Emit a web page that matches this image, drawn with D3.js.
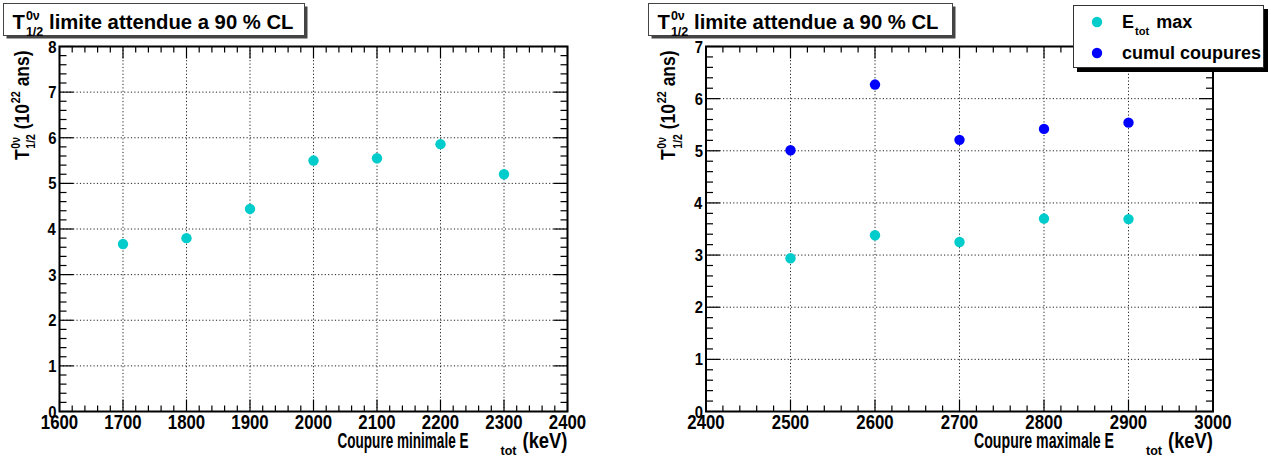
<!DOCTYPE html>
<html><head><meta charset="utf-8">
<script src="https://cdn.jsdelivr.net/npm/d3@7"></script>
<style>
html,body{margin:0;padding:0;background:#fff;}
svg text{font-family:"Liberation Sans",Arial,Helvetica,sans-serif;font-weight:bold;fill:#000;}
</style></head>
<body>
<svg id="c" width="1271" height="458"></svg>
<script>
// ---- data ----
const leftCuts = [1700, 1800, 1900, 2000, 2100, 2200, 2300];
const leftLimit = [3.67, 3.80, 4.44, 5.50, 5.55, 5.86, 5.20];
const rightCuts = [2500, 2600, 2700, 2800, 2900];
const rightEtotMax = [2.94, 3.38, 3.25, 3.70, 3.69];
const rightCumul = [5.01, 6.27, 5.21, 5.42, 5.54];
const leftXTicks = [1600, 1700, 1800, 1900, 2000, 2100, 2200, 2300, 2400];
const leftYTicks = [0, 1, 2, 3, 4, 5, 6, 7, 8];
const rightXTicks = [2400, 2500, 2600, 2700, 2800, 2900, 3000];
const rightYTicks = [0, 1, 2, 3, 4, 5, 6, 7];
const seriesNames = ["E|tot| max", "cumul coupures"];
const colCyan = "#00cccc", colBlue = "#0000ff";

const svg = d3.select("#c");

// rich text: parts = {t} | {sup, sub}
function rich(parent, x, y, parts, o) {
  const size = o.size, sx = o.sx || 1;
  const g = parent.append("g");
  const inner = g.append("g");
  let cx = 0;
  parts.forEach(p => {
    if (p.t !== undefined) {
      const t = inner.append("text").attr("x", cx).attr("y", 0)
        .style("font-size", size + "px").text(p.t.replace(/ /g, "\u00A0"));
      cx += t.node().getComputedTextLength();
    } else {
      const s = size * (p.scale || 0.62);
      let w = 0;
      if (p.sup) {
        const t = inner.append("text").attr("x", cx + 1).attr("y", -size * 0.42)
          .style("font-size", s + "px").text(p.sup);
        w = Math.max(w, t.node().getComputedTextLength() + 1);
      }
      if (p.sub) {
        const t = inner.append("text").attr("x", cx + 1).attr("y", size * (p.subdy || 0.32))
          .style("font-size", s + "px").text(p.sub);
        w = Math.max(w, t.node().getComputedTextLength() + 1);
      }
      cx += w + (p.gap || 0);
    }
  });
  const bb = inner.node().getBBox();
  const shift = o.anchor === "end" ? -(bb.x + bb.width) : o.anchor === "middle" ? -(bb.x + bb.width / 2) : 0;
  inner.attr("transform", `translate(${shift},0)`);
  g.attr("transform", `translate(${x},${y}) rotate(${o.rotate || 0}) scale(${sx},1)`);
  return g;
}

function panel(cfg) {
  const x = d3.scaleLinear().domain(cfg.xDomain).range(cfg.xRange);
  const y = d3.scaleLinear().domain(cfg.yDomain).range(cfg.yRange);
  const g = svg.append("g");
  const [x0, x1] = cfg.xRange, [y0, y1] = cfg.yRange; // y0 bottom, y1 top

  // grid
  g.append("g").selectAll("line").data(cfg.xTicks.slice(1, -1)).join("line")
    .attr("x1", d => x(d)).attr("x2", d => x(d)).attr("y1", y0).attr("y2", y1)
    .attr("stroke", "#222").attr("stroke-width", 1).attr("stroke-dasharray", "1.2,2.2");
  g.append("g").selectAll("line").data(cfg.yTicks.slice(1, -1)).join("line")
    .attr("y1", d => y(d)).attr("y2", d => y(d)).attr("x1", x0).attr("x2", x1)
    .attr("stroke", "#222").attr("stroke-width", 1).attr("stroke-dasharray", "1.2,2.2");

  // minor/major ticks
  const xMinor = d3.range(cfg.xDomain[0], cfg.xDomain[1] + 0.1, 20);
  const yMinor = d3.range(cfg.yDomain[0], cfg.yDomain[1] + 0.01, 0.2);
  const isMajX = v => Math.abs(v / 100 - Math.round(v / 100)) < 1e-6;
  const isMajY = v => Math.abs(v - Math.round(v)) < 1e-6;
  const tk = g.append("g").attr("stroke", "#000").attr("stroke-width", 1.2);
  xMinor.forEach(v => {
    const L = isMajX(v) ? 12 : 6;
    tk.append("line").attr("x1", x(v)).attr("x2", x(v)).attr("y1", y0).attr("y2", y0 - L);
    tk.append("line").attr("x1", x(v)).attr("x2", x(v)).attr("y1", y1).attr("y2", y1 + L);
  });
  yMinor.forEach(v => {
    const L = isMajY(v) ? 14 : 7;
    tk.append("line").attr("y1", y(v)).attr("y2", y(v)).attr("x1", x0).attr("x2", x0 + L);
    tk.append("line").attr("y1", y(v)).attr("y2", y(v)).attr("x1", x1).attr("x2", x1 - L);
  });

  // frame
  g.append("rect").attr("x", x0).attr("y", y1).attr("width", x1 - x0).attr("height", y0 - y1)
    .attr("fill", "none").attr("stroke", "#000").attr("stroke-width", 2);

  // tick labels
  cfg.xTicks.forEach(v => {
    rich(g, x(v), y0 + 17, [{ t: String(v) }], { size: 21, sx: 0.8, anchor: "middle" });
  });
  cfg.yTicks.forEach(v => {
    rich(g, x0 - 3, y(v) + 6, [{ t: String(v) }], { size: 16.5, sx: 0.9, anchor: "end" });
  });

  // x axis title: "<title> E" + subscript "tot" + "(keV)"
  const xt = g.append("g");
  xt.append("text").attr("x", x1 - 99).attr("y", y0 + 36).attr("text-anchor", "end")
    .style("font-size", "21.5px").attr("textLength", cfg.xTitleLen).attr("lengthAdjust", "spacingAndGlyphs")
    .text(cfg.xTitle);
  xt.append("text").attr("x", x1 - 67).attr("y", y0 + 43)
    .style("font-size", "13px").attr("textLength", 16).attr("lengthAdjust", "spacingAndGlyphs").text("tot");
  xt.append("text").attr("x", x1).attr("y", y0 + 36).attr("text-anchor", "end")
    .style("font-size", "21.5px").attr("textLength", 45).attr("lengthAdjust", "spacingAndGlyphs").text("(keV)");

  rich(g, x0 - cfg.yTitleOff, y1 + 4,
    [{ t: "T" }, { sup: "0\u03bd", sub: "1/2", scale: 0.6 }, { t: " (10" }, { sup: "22", scale: 0.62 }, { t: " ans)" }],
    { size: 20.5, sx: 0.85, anchor: "end", rotate: -90 });

  // points
  cfg.series.forEach(s => {
    g.append("g").selectAll("circle").data(s.values).join("circle")
      .attr("cx", (d, i) => x(cfg.xs[i])).attr("cy", d => y(d)).attr("r", 5.2).attr("fill", s.color);
  });

  // title box
  const tb = cfg.titleBox;
  g.append("rect").attr("x", tb[0] + 3).attr("y", tb[1] + 3).attr("width", tb[2]).attr("height", tb[3]).attr("fill", "#444");
  g.append("rect").attr("x", tb[0]).attr("y", tb[1]).attr("width", tb[2]).attr("height", tb[3])
    .attr("fill", "#fff").attr("stroke", "#444").attr("stroke-width", 1);
  rich(g, tb[0] + 9, tb[1] + 25, [{ t: "T" }, { sup: "0\u03bd", sub: "1/2", scale: 0.62, subdy: 0.36 }, { t: " limite attendue a 90 % CL" }],
    { size: 20.5, sx: 0.99 });
}

panel({
  xDomain: [1600, 2400], xRange: [59.5, 567.5],
  yDomain: [0, 8], yRange: [411.5, 46.5],
  xTicks: leftXTicks, yTicks: leftYTicks, xs: leftCuts,
  series: [{ values: leftLimit, color: colCyan }],
  xTitle: "Coupure minimale E", xTitleLen: 131, yTitleOff: 31,
  titleBox: [3.5, 3.5, 301, 32]
});
panel({
  xDomain: [2400, 3000], xRange: [706, 1213],
  yDomain: [0, 7], yRange: [411.5, 46.5],
  xTicks: rightXTicks, yTicks: rightYTicks, xs: rightCuts,
  series: [{ values: rightEtotMax, color: colCyan }, { values: rightCumul, color: colBlue }],
  xTitle: "Coupure maximale E", xTitleLen: 140, yTitleOff: 31,
  titleBox: [648.5, 3.5, 304, 32]
});

// legend
const lg = svg.append("g");
lg.append("rect").attr("x", 1077).attr("y", 9).attr("width", 191).attr("height", 63).attr("fill", "#000");
lg.append("rect").attr("x", 1073.5).attr("y", 5.5).attr("width", 190).attr("height", 62)
  .attr("fill", "#fff").attr("stroke", "#333").attr("stroke-width", 1);
const legColors = [colCyan, colBlue];
seriesNames.forEach((n, i) => {
  const cy = 22 + i * 31;
  lg.append("circle").attr("cx", 1097).attr("cy", cy).attr("r", 5.2).attr("fill", legColors[i]);
  const m = n.match(/^(.*)\|(.*)\|(.*)$/);
  const parts = m ? [{ t: m[1] }, { sub: m[2], subdy: 0.4, scale: 0.62, gap: 2 }, { t: m[3] }] : [{ t: n }];
  rich(lg, 1122, cy + 5.5, parts, { size: 18, sx: 1.0 });
});
</script>
</body></html>
